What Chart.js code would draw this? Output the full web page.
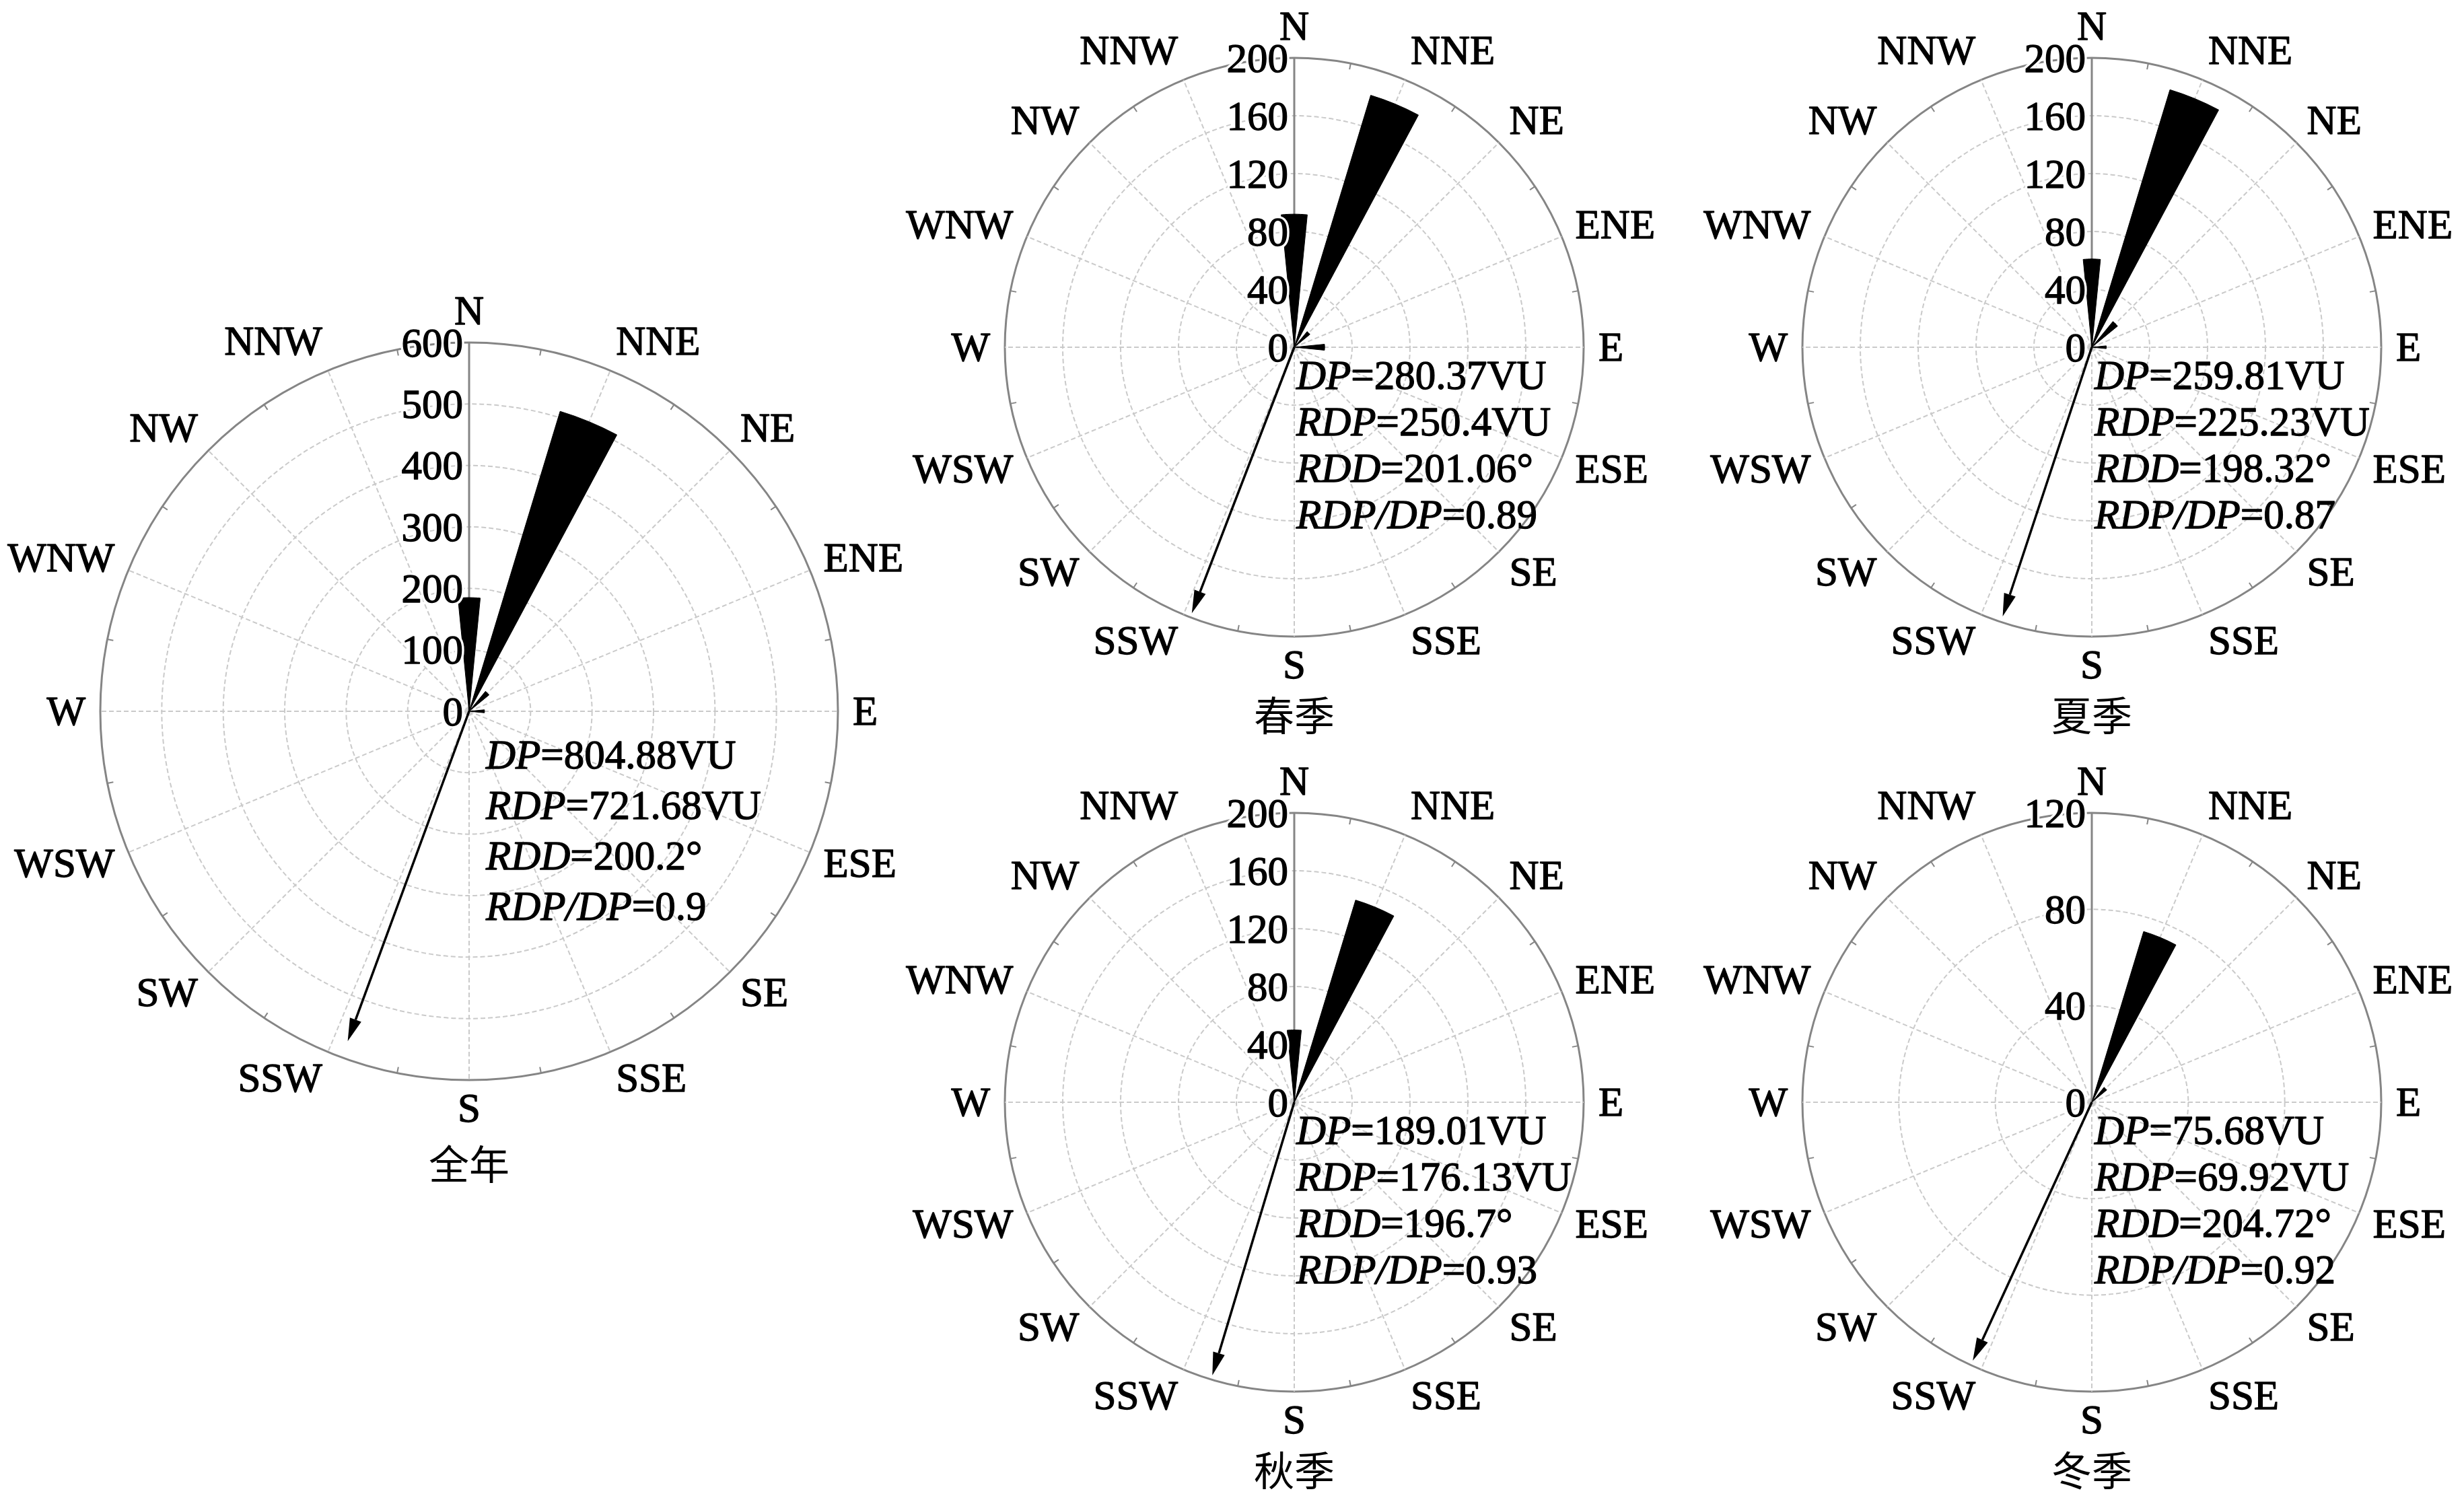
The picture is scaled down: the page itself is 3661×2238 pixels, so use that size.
<!DOCTYPE html>
<html>
<head>
<meta charset="utf-8">
<script src="https://cdn.jsdelivr.net/npm/chart.js@4/dist/chart.umd.min.js"></script>
<style>
    html, body { margin: 0; padding: 0; background: #fff; }
    body { width: 3661px; height: 2238px; position: relative; overflow: hidden; }
    canvas { position: absolute; }
    .probe { position: absolute; left: -9999px; top: 0; font-size: 61px; }
</style>
</head>
<body>
<span class="probe" style="font-family: 'Liberation Serif';">NNE 0123</span>
<span class="probe" style="font-family: 'Liberation Serif'; font-style: italic;">RDP</span>
<span class="probe" style="font-family: 'Noto Sans CJK SC';">全年春季</span>
<canvas id="rose-year"></canvas>
<canvas id="rose-spring"></canvas>
<canvas id="rose-summer"></canvas>
<canvas id="rose-autumn"></canvas>
<canvas id="rose-winter"></canvas>
<script>
const directions = ['N', 'NNE', 'NE', 'ENE', 'E', 'ESE', 'SE', 'SSE', 'S', 'SSW', 'SW', 'WSW', 'W', 'WNW', 'NW', 'NNW'];

// drift potential by direction (VU)
const yearValues   = [185, 510, 42, 0, 25, 0, 0, 0, 0, 0, 0, 0, 0, 0, 0, 0];
const springValues = [92, 182, 14, 0, 21, 0, 0, 0, 0, 0, 0, 0, 0, 0, 0, 0];
const summerValues = [61, 186, 23, 0, 10, 0, 0, 0, 0, 0, 0, 0, 0, 0, 0, 0];
const autumnValues = [50, 146, 0, 0, 0, 0, 0, 0, 0, 0, 0, 0, 0, 0, 0, 0];
const winterValues = [0, 74, 8, 0, 0, 0, 0, 0, 0, 0, 0, 0, 0, 0, 0, 0];

const panelNames = ['全年', '春季', '夏季', '秋季', '冬季'];
const axisMax = [600, 200, 200, 200, 120];
const axisStep = [100, 40, 40, 40, 40];
const dpValues = ['804.88', '280.37', '259.81', '189.01', '75.68'];
const rdpValues = ['721.68', '250.4', '225.23', '176.13', '69.92'];
const rddValues = [200.2, 201.06, 198.32, 196.7, 204.72];
const ratioValues = ['0.9', '0.89', '0.87', '0.93', '0.92'];
const arrowLengths = [572, 197, 196, 197, 118];

const seriesValues = [yearValues, springValues, summerValues, autumnValues, winterValues];

// page placement of each rose: canvas box, centre and radius in page px
const layouts = [
    { id: 'rose-year',   left: 0,    top: 0,    width: 1340, height: 2238, cx: 697,  cy: 1057, radius: 548, textDx: 25, textDy: 65, lineGap: 75, titleGap: 673 },
    { id: 'rose-spring', left: 1340, top: 0,    width: 1175, height: 1119, cx: 1923, cy: 516,  radius: 430, textDx: 3,  textDy: 42, lineGap: 69, titleGap: 547 },
    { id: 'rose-summer', left: 2515, top: 0,    width: 1146, height: 1119, cx: 3108, cy: 516,  radius: 430, textDx: 4,  textDy: 42, lineGap: 69, titleGap: 547 },
    { id: 'rose-autumn', left: 1340, top: 1119, width: 1175, height: 1119, cx: 1923, cy: 1638, radius: 430, textDx: 3,  textDy: 42, lineGap: 69, titleGap: 547 },
    { id: 'rose-winter', left: 2515, top: 1119, width: 1146, height: 1119, cx: 3108, cy: 1638, radius: 430, textDx: 4,  textDy: 42, lineGap: 69, titleGap: 547 }
];

const SERIF = '"Liberation Serif", "DejaVu Serif", serif';
const FONT_SIZE = 61;
const TITLE_SIZE = 60;
const CAP = 0.662 * FONT_SIZE;
const RING = '#cacaca';
const EDGE = '#858585';

// each direction gets a half-width wedge: 16 bars + 16 gaps, N split across 0 deg
function toSlots(values) {
    const slots = [values[0]];
    for (let k = 1; k < values.length; k++) slots.push(0, values[k]);
    slots.push(0, values[0]);
    return slots;
}

function slotAngle(index, count) {
    return (index === 0 || index === count - 1) ? 360 / 64 : 360 / 32;
}

// fill plus a hairline stroke, the scanned original prints a little heavy
function inkText(ctx, text, x, y) {
    ctx.fillStyle = '#000';
    ctx.fillText(text, x, y);
    ctx.strokeStyle = '#000';
    ctx.lineWidth = 1.3;
    ctx.strokeText(text, x, y);
}

function drawRuns(ctx, x, y, runs) {
    for (const [text, italic] of runs) {
        ctx.font = (italic ? 'italic ' : '') + FONT_SIZE + 'px ' + SERIF;
        inkText(ctx, text, x, y);
        x += ctx.measureText(text).width;
    }
}

function roseDecor(i, lay) {
    return {
        id: 'roseDecor',
        afterDatasetsDraw(chart) {
            const scale = chart.scales.r;
            const ctx = chart.ctx;
            const R = scale.drawingArea;
            const cx = scale.xCenter, cy = scale.yCenter;
            ctx.save();

            // small ticks on the outer ring between the compass points
            ctx.strokeStyle = EDGE;
            ctx.lineWidth = 2;
            for (let k = 0; k < directions.length; k++) {
                const a = scale.getPointPosition(k, R, Math.PI / 16);
                const b = scale.getPointPosition(k, R - 9, Math.PI / 16);
                ctx.beginPath(); ctx.moveTo(a.x, a.y); ctx.lineTo(b.x, b.y); ctx.stroke();
            }

            // resultant drift direction arrow
            const rad = rddValues[i] * Math.PI / 180;
            const tip = scale.getPointPosition(0, scale.getDistanceFromCenterForValue(arrowLengths[i]), rad);
            const ux = Math.sin(rad), uy = -Math.cos(rad);
            const headLen = 34, headHalf = 9;
            const bx = tip.x - ux * headLen, by = tip.y - uy * headLen;
            ctx.strokeStyle = '#000';
            ctx.lineWidth = 3.5;
            ctx.beginPath(); ctx.moveTo(cx, cy); ctx.lineTo(bx, by); ctx.stroke();
            ctx.fillStyle = '#000';
            ctx.beginPath();
            ctx.moveTo(tip.x, tip.y);
            ctx.lineTo(bx - uy * headHalf, by + ux * headHalf);
            ctx.lineTo(bx + uy * headHalf, by - ux * headHalf);
            ctx.closePath(); ctx.fill();

            // radial tick labels, left of the north axis
            ctx.font = FONT_SIZE + 'px ' + SERIF;
            ctx.textAlign = 'right';
            ctx.textBaseline = 'alphabetic';
            ctx.lineJoin = 'round';
            scale.ticks.forEach(t => {
                const y = cy - scale.getDistanceFromCenterForValue(t.value) + 0.338 * FONT_SIZE;
                ctx.strokeStyle = '#fff'; ctx.lineWidth = 8;
                ctx.strokeText(String(t.value), cx - 9, y);
                inkText(ctx, String(t.value), cx - 9, y);
            });

            // compass labels: anchored just outside the ring, pushed sideways by half their width
            ctx.textAlign = 'center';
            directions.forEach((d, k) => {
                const a = k * Math.PI / 8;
                const s = Math.sin(a), c = Math.cos(a);
                const w = ctx.measureText(d).width;
                const p = scale.getPointPosition(k, R + 22);
                const side = Math.abs(s) < 1e-6 ? 0 : Math.sign(s);
                const x = p.x + side * w / 2;
                const y = p.y - c * (CAP / 2 + (c > 0 ? 5 : 0));
                inkText(ctx, d, x, y + CAP / 2);
            });

            // drift statistics
            ctx.textAlign = 'left';
            const tx = cx + lay.textDx;
            let ty = cy + lay.textDy + CAP / 2;
            const lines = [
                [['DP', true], ['=' + dpValues[i] + 'VU', false]],
                [['RDP', true], ['=' + rdpValues[i] + 'VU', false]],
                [['RDD', true], ['=' + rddValues[i] + '°', false]],
                [['RDP/DP', true], ['=' + ratioValues[i], false]]
            ];
            lines.forEach(runs => { drawRuns(ctx, tx, ty, runs); ty += lay.lineGap; });
            ctx.restore();
        }
    };
}

function makeRose(i) {
    const lay = layouts[i];
    const canvas = document.getElementById(lay.id);
    canvas.width = lay.width;
    canvas.height = lay.height;
    canvas.style.left = lay.left + 'px';
    canvas.style.top = lay.top + 'px';
    canvas.style.width = lay.width + 'px';
    canvas.style.height = lay.height + 'px';

    const max = axisMax[i];
    const slots = toSlots(seriesValues[i]);
    const cxLocal = lay.cx - lay.left, cyLocal = lay.cy - lay.top;
    const R = lay.radius;
    const titleLine = TITLE_SIZE * 1.2;
    const titleTop = lay.titleGap - R - titleLine / 2;

    return new Chart(canvas, {
        type: 'polarArea',
        data: {
            labels: directions,
            datasets: [{
                data: slots,
                backgroundColor: '#000',
                borderColor: '#000',
                borderWidth: c => (c.raw > 0 ? 1 : 0),
                angle: c => slotAngle(c.dataIndex, slots.length)
            }]
        },
        options: {
            responsive: false,
            animation: false,
            layout: {
                padding: {
                    left: cxLocal - R,
                    right: lay.width - cxLocal - R,
                    top: cyLocal - R,
                    bottom: lay.height - cyLocal - R - titleTop - titleLine
                }
            },
            plugins: {
                legend: { display: false },
                tooltip: { enabled: false },
                title: {
                    display: true,
                    position: 'bottom',
                    text: panelNames[i],
                    color: '#000',
                    font: { family: '"Noto Sans CJK SC"', size: TITLE_SIZE, weight: 'normal', lineHeight: 1.2 },
                    padding: { top: titleTop, bottom: 0 }
                }
            },
            scales: {
                r: {
                    min: 0,
                    max: max,
                    startAngle: 0,
                    ticks: { display: false, stepSize: axisStep[i] },
                    pointLabels: { display: false },
                    grid: {
                        circular: true,
                        color: c => (c.tick && c.tick.value === max ? EDGE : RING),
                        lineWidth: c => (c.tick && c.tick.value === max ? 3 : 2)
                    },
                    border: {
                        dash: c => (c.tick && c.tick.value === max ? [] : [7, 4])
                    },
                    angleLines: {
                        display: true,
                        color: c => (c.index === 0 ? EDGE : RING),
                        lineWidth: c => (c.index === 0 ? 3 : 2),
                        borderDash: c => (c.index === 0 ? [] : [7, 4])
                    }
                }
            }
        },
        plugins: [roseDecor(i, lay)]
    });
}

const charts = layouts.map((lay, i) => makeRose(i));

// redraw once the installed fonts are really available to the canvas
Promise.all([
    document.fonts.load('61px "Liberation Serif"'),
    document.fonts.load('italic 61px "Liberation Serif"'),
    document.fonts.load('60px "Noto Sans CJK SC"')
]).then(() => charts.forEach(c => c.update()));
</script>
</body>
</html>
